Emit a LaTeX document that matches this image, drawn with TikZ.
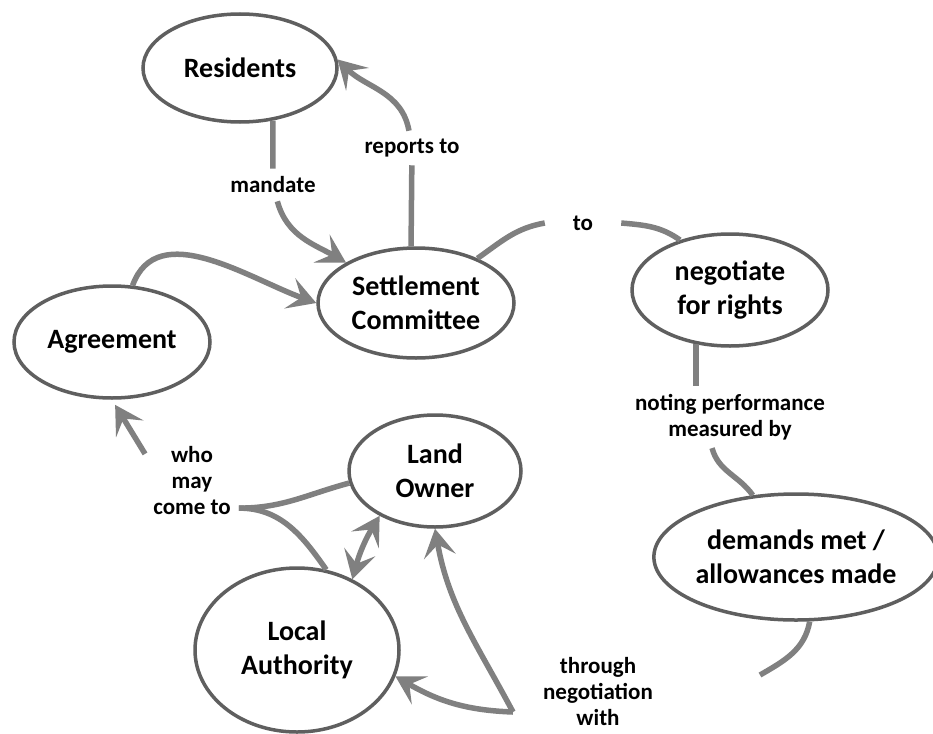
\documentclass[tikz,border=0pt]{standalone}
\usepackage{fontspec}
\setmainfont{Carlito}
\usetikzlibrary{arrows.meta,shapes.geometric}

\definecolor{linkgray}{RGB}{128,128,128}
\definecolor{ringgray}{RGB}{95,95,95}

\begin{document}
\begin{tikzpicture}[->,>={Stealth[length=28pt,width=32pt,inset=12pt]},x=1pt,y=1pt,
                    every edge/.style={draw=linkgray,line width=5.5pt},
                    concept/.style={ellipse,draw=ringgray,line width=3.5pt,align=center,
                      inner sep=0pt,minimum width=196pt,minimum height=110pt,
                      font=\bfseries\fontsize{28}{34}\selectfont},
                    phrase/.style={align=center,inner sep=8pt,font=\bfseries\fontsize{23}{26}\selectfont}]
  \path[use as bounding box,fill=white] (0,0) rectangle (933,-733);

  \node[concept,minimum width=194pt,minimum height=108pt] (A) at (240,-68)  {Residents};
  \node[concept]                                          (B) at (416,-303) {Settlement\\Committee};
  \node[concept,minimum height=112pt]                     (C) at (112,-342) {Agreement};
  \node[concept,minimum height=112pt]                     (D) at (730,-290) {negotiate\\for rights};
  \node[concept,minimum width=172pt,minimum height=112pt] (E) at (435,-471) {Land\\Owner};
  \node[concept,minimum width=204pt,minimum height=164pt] (F) at (297,-650) {Local\\Authority};
  \node[concept,minimum width=276pt,minimum height=126pt] (G) at (796,-557) {demands met /\\allowances made};

  \node[phrase]                (H) at (273,-185) {mandate};
  \node[phrase]                (I) at (412,-148) {reports to};
  \node[phrase,inner xsep=28pt] (J) at (583,-223) {to};
  \node[phrase]                (K) at (730,-417) {noting performance\\measured by};
  \node[phrase]                (L) at (192,-481) {who\\may\\come to};
  \node[phrase,inner sep=4pt]  (M) at (598,-692) {through\\negotiation\\with};
  \coordinate (N) at (513,-712);
  \coordinate (P) at (760,-675);

  \path (A.-58) edge[-]                  (H);
  \path (H)     edge[out=-75,in=150]     (B);
  \path (B.95)  edge[-]                  (I);
  \path (I)     edge[out=100,in=-45]     (A.5);
  \path (C.70)  edge[out=70,in=160]      (B.west);
  \path (B.36)  edge[-,out=35,in=190]    (J.west);
  \path (J.east) edge[-,out=-5,in=145]   (D.135);
  \path (D.238) edge[-]                  (D.238 |- K.north);
  \path (K.-120) edge[-,out=-75,in=125]  (G.125);
  \path (G.-78) edge[-,out=-100,in=30]   (P);
  \path (N)     edge[out=178,in=-30]     (F.-15);
  \path (N)     edge[out=118,in=-80]     (E.south);
  \path (F.52)  edge[<->,bend left=8]    (E.219);
  \path (E.188) edge[-,out=195,in=0]     (L.-30);
  \path (F.70)  edge[-,out=125,in=0]     (L.-30);
  \path (L.150) edge[shorten >=6pt]      (C.south);
\end{tikzpicture}
\end{document}
